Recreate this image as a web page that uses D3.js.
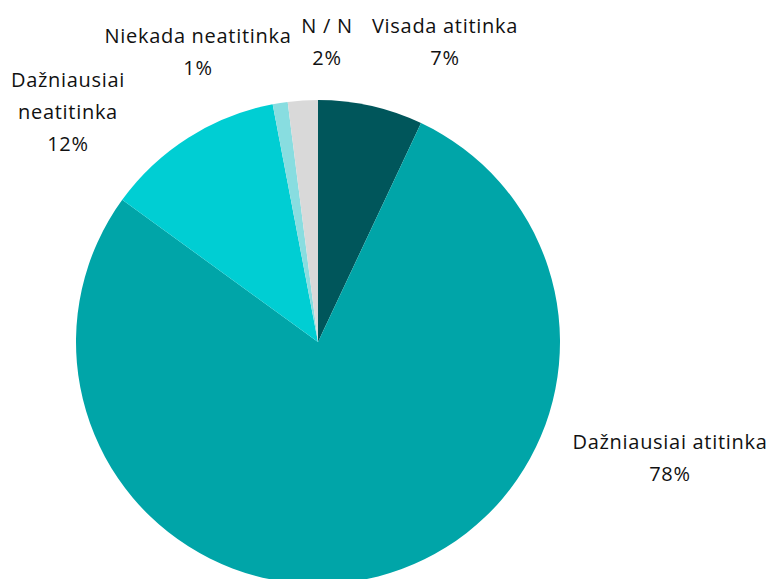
<!DOCTYPE html>
<html lang="en">
<head>
  <meta charset="UTF-8" />
  <title>Pie</title>
  <script src="https://d3js.org/d3.v7.min.js"></script>
  <style>
    body { margin: 0; background: #fff; }
    svg text { font-family: "Open Sans", sans-serif; font-size: 20px; letter-spacing: 0.7px; fill: #111; }
  </style>
</head>
<body>
  <div id="chart"></div>
  <script>
    // ---------- DATA ----------
    const categories = ["Visada atitinka", "Dažniausiai atitinka", "Dažniausiai neatitinka", "Niekada neatitinka", "N / N"];
    const values = [7, 78, 12, 1, 2];
    const colors = ["#00565B", "#00A5A8", "#00CED3", "#88DDE0", "#D9D9D9"];

    // label lines as Excel wrapped them
    const labelLines = [
      ["Visada atitinka"],
      ["Dažniausiai atitinka"],
      ["Dažniausiai", "neatitinka"],
      ["Niekada neatitinka"],
      ["N / N"]
    ];

    const width = 773, height = 579;
    const cx = 318, cy = 342, r = 242;

    const svg = d3.select("#chart").append("svg")
      .attr("width", width).attr("height", height);

    const data = categories.map((c, i) => ({ name: c, value: values[i], color: colors[i], lines: labelLines[i] }));

    const pie = d3.pie().sort(null).value(d => d.value);
    const arc = d3.arc().innerRadius(0).outerRadius(r);
    const arcs = pie(data);

    const g = svg.append("g").attr("transform", `translate(${cx},${cy})`);
    g.selectAll("path")
      .data(arcs)
      .join("path")
      .attr("d", arc)
      .attr("fill", d => d.data.color);

    // label placement (Excel puts them outside the pie, center of text block)
    const labelPos = {
      "Visada atitinka": [445, 25],
      "Dažniausiai atitinka": [670, 441],
      "Dažniausiai neatitinka": [68, 79],
      "Niekada neatitinka": [198, 35],
      "N / N": [327, 25]
    };
    const lineH = 32;

    const labels = svg.selectAll("text.lbl")
      .data(arcs)
      .join("text")
      .attr("class", "lbl")
      .attr("text-anchor", "middle")
      .attr("dominant-baseline", "central");

    labels.each(function (d) {
      const [x, y] = labelPos[d.data.name];
      const t = d3.select(this);
      const lines = d.data.lines.concat([d3.format(".0f")(d.data.value) + "%"]);
      lines.forEach((s, i) => {
        t.append("tspan").attr("x", x).attr("y", y + i * lineH).text(s);
      });
    });
  </script>
</body>
</html>
